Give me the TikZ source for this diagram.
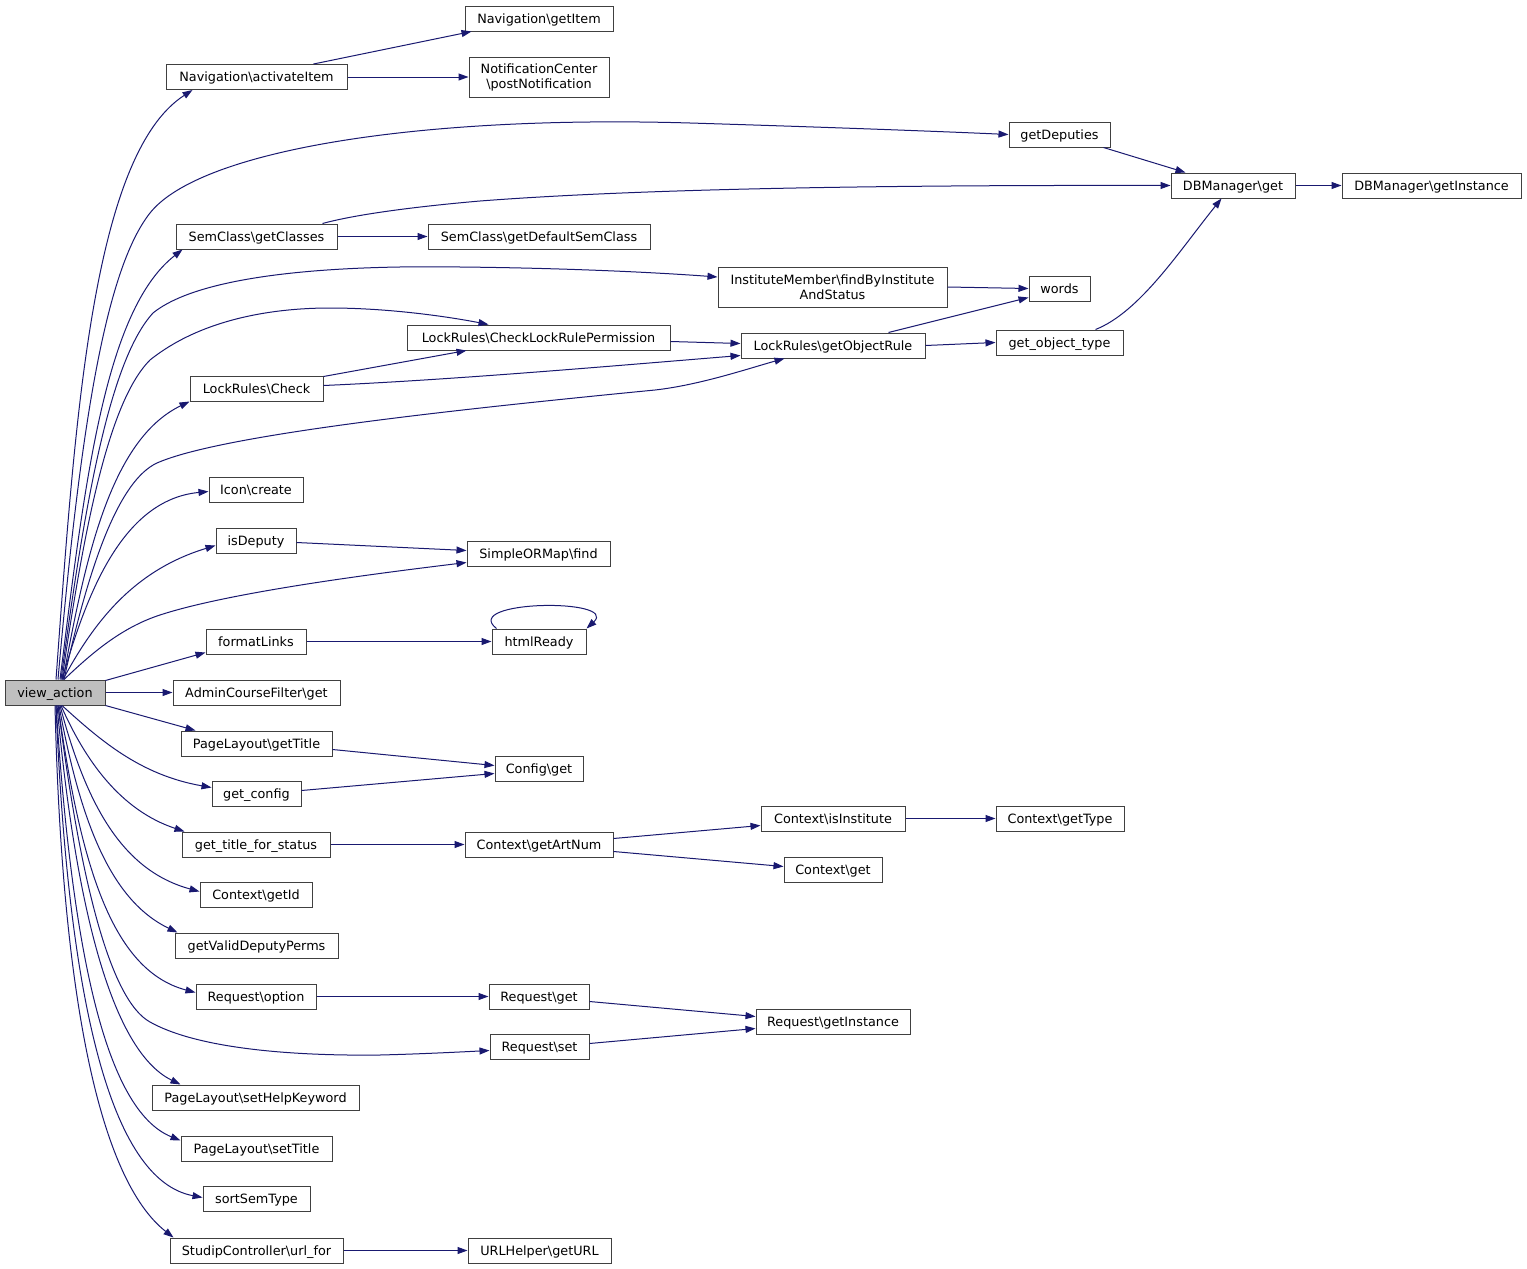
\documentclass[tikz,border=0pt]{standalone}
\usepackage{fontspec}
\setmainfont{DejaVu Sans}
\usetikzlibrary{arrows.meta,calc}
\definecolor{edgecol}{HTML}{191970}
\definecolor{boxline}{HTML}{404040}
\definecolor{rootfill}{HTML}{BFBFBF}
\begin{document}
\begin{tikzpicture}[x=1pt,y=-1pt,
  basebox/.style={draw=boxline, line width=1pt, fill=white, inner sep=0pt,
    font=\fontsize{12.8}{15}\selectfont, align=center},
  box/.style={basebox, minimum height=25pt, text height=11pt, text depth=1.4pt},
  box2/.style={basebox, minimum height=40pt},
  root/.style={box, fill=rootfill},
  call/.style={draw=edgecol, line width=1pt, -{Triangle[length=10pt,width=7pt]}}]
\useasboundingbox (0,0) rectangle (1527,1269);
\fill[white] (0,0) rectangle (1527,1269);
% nodes
\node[root, minimum width=100pt] (view) at (55,692.5) {view\_action};
\node[box, minimum width=181pt] (nav) at (256.5,77) {Navigation\textbackslash activateItem};
\node[box, minimum width=148pt] (getitem) at (539,18.5) {Navigation\textbackslash getItem};
\node[box2, minimum width=140pt] (postnot) at (539,77) {NotificationCenter\\\textbackslash postNotification};
\node[box, minimum width=101pt] (deputies) at (1059.5,134.5) {getDeputies};
\node[box, minimum width=124pt] (dbget) at (1233,185.5) {DBManager\textbackslash get};
\node[box, minimum width=179pt] (dbinst) at (1431.5,185.5) {DBManager\textbackslash getInstance};
\node[box, minimum width=161pt] (getclasses) at (256.5,236.5) {SemClass\textbackslash getClasses};
\node[box, minimum width=222pt] (defsem) at (539,236.5) {SemClass\textbackslash getDefaultSemClass};
\node[box2, minimum width=229pt] (instmem) at (832.5,287) {InstituteMember\textbackslash findByInstitute\\AndStatus};
\node[box, minimum width=61pt] (words) at (1059.5,288.5) {words};
\node[box, minimum width=263pt] (checkperm) at (538.5,337.5) {LockRules\textbackslash CheckLockRulePermission};
\node[box, minimum width=184pt] (objrule) at (833,345.5) {LockRules\textbackslash getObjectRule};
\node[box, minimum width=127pt] (objtype) at (1059.5,342.5) {get\_object\_type};
\node[box, minimum width=133pt] (check) at (256.5,388.5) {LockRules\textbackslash Check};
\node[box, minimum width=94pt] (icon) at (256,489.5) {Icon\textbackslash create};
\node[box, minimum width=80pt] (isdeputy) at (256,540.5) {isDeputy};
\node[box, minimum width=143pt] (ormfind) at (538.5,553.5) {SimpleORMap\textbackslash find};
\node[box, minimum width=100pt] (formatlinks) at (256,641.5) {formatLinks};
\node[box, minimum width=94pt] (htmlready) at (539,641.5) {htmlReady};
\node[box, minimum width=167pt] (adminget) at (256.5,692.5) {AdminCourseFilter\textbackslash get};
\node[box, minimum width=151pt] (gettitle) at (256.5,743.5) {PageLayout\textbackslash getTitle};
\node[box, minimum width=88pt] (configget) at (539,768.5) {Config\textbackslash get};
\node[box, minimum width=89pt] (getconfig) at (256.5,793.5) {get\_config};
\node[box, minimum width=144pt] (isinst) at (833,818.5) {Context\textbackslash isInstitute};
\node[box, minimum width=128pt] (gettype) at (1060,818.5) {Context\textbackslash getType};
\node[box, minimum width=148pt] (titlestatus) at (256,844.5) {get\_title\_for\_status};
\node[box, minimum width=148pt] (artnum) at (539,844.5) {Context\textbackslash getArtNum};
\node[box, minimum width=98pt] (ctxget) at (833,869.5) {Context\textbackslash get};
\node[box, minimum width=112pt] (ctxid) at (256,894.5) {Context\textbackslash getId};
\node[box, minimum width=163pt] (validperms) at (256.5,945.5) {getValidDeputyPerms};
\node[box, minimum width=120pt] (reqoption) at (256,996.5) {Request\textbackslash option};
\node[box, minimum width=100pt] (reqget) at (539,996.5) {Request\textbackslash get};
\node[box, minimum width=154pt] (reqinst) at (833,1021.5) {Request\textbackslash getInstance};
\node[box, minimum width=99pt] (reqset) at (539.5,1046.5) {Request\textbackslash set};
\node[box, minimum width=207pt] (helpkw) at (255.5,1097.5) {PageLayout\textbackslash setHelpKeyword};
\node[box, minimum width=151pt] (settitle) at (256.5,1148.5) {PageLayout\textbackslash setTitle};
\node[box, minimum width=107pt] (sorttype) at (256.5,1198.5) {sortSemType};
\node[box, minimum width=173pt] (urlfor) at (256.5,1250.5) {StudipController\textbackslash url\_for};
\node[box, minimum width=143pt] (geturl) at (539.5,1250.5) {URLHelper\textbackslash getURL};

% edges from view_action, upward fan
\draw[call] ($(view.north)+(1,0)$) .. controls (75,420) and (92,155) .. ($(nav.south west)+(27,0)$);
\draw[call] ($(view.north)+(3,0)$) .. controls (80,430) and (105,270) .. (150,213)
   .. controls (200,150) and (420,115) .. (690,123)
   .. controls (820,127) and (930,131) .. (deputies.west);
\draw[call] ($(view.north)+(5,0)$) .. controls (85,480) and (105,310) .. ($(getclasses.south west)+(7,0)$);
\draw[call] ($(view.north)+(6,0)$) .. controls (85,500) and (110,360) .. (153,313)
   .. controls (200,275) and (330,265) .. (460,267)
   .. controls (560,268) and (650,272) .. ($(instmem.west)+(0,-10)$);
\draw[call] ($(view.north)+(7,0)$) .. controls (85,520) and (110,400) .. (150,360)
   .. controls (200,320) and (270,308) .. (330,308)
   .. controls (390,308) and (450,317) .. ($(checkperm.north)+(-50,0)$);
\draw[call] ($(view.north)+(8,0)$) .. controls (85,560) and (110,440) .. (check.south west);
\draw[call] ($(view.north)+(9,0)$) .. controls (90,560) and (120,480) .. (157,463)
   .. controls (220,435) and (450,410) .. (655,390)
   .. controls (700,385) and (750,368) .. ($(objrule.south west)+(44,0)$);
\draw[call] ($(view.north)+(7,0)$) .. controls (85,600) and (120,500) .. ($(icon.west)+(0,2)$);
\draw[call] ($(view.north)+(8,0)$) .. controls (95,620) and (135,570) .. ($(isdeputy.west)+(0,5)$);
\draw[call] ($(view.north)+(9,0)$) .. controls (90,655) and (120,628) .. (160,615)
   .. controls (230,592) and (380,573) .. ($(ormfind.west)+(0,9)$);
\draw[call] ($(view.north east)+(0,1)$) -- ($(formatlinks.west)+(0,11)$);
\draw[call] (view.east) -- (adminget.west);
% downward fan
\draw[call] (view.south east) -- ($(gettitle.north west)+(15,0)$);
\draw[call] ($(view.south)+(7,0)$) .. controls (100,740) and (140,775) .. ($(getconfig.west)+(0,-6)$);
\draw[call] ($(view.south)+(6,0)$) .. controls (85,760) and (120,810) .. ($(titlestatus.north west)+(3,0)$);
\draw[call] ($(view.south)+(5,0)$) .. controls (85,800) and (120,870) .. ($(ctxid.west)+(0,-3)$);
\draw[call] ($(view.south)+(4,0)$) .. controls (80,820) and (110,900) .. ($(validperms.north west)+(3,0)$);
\draw[call] ($(view.south)+(3,0)$) .. controls (80,860) and (110,970) .. ($(reqoption.west)+(0,-4)$);
\draw[call] ($(view.south)+(3,0)$) .. controls (80,880) and (110,1000) .. (150,1022)
   .. controls (200,1050) and (300,1056) .. (380,1055)
   .. controls (420,1054) and (460,1052) .. ($(reqset.west)+(0,4)$);
\draw[call] ($(view.south)+(2,0)$) .. controls (75,900) and (110,1050) .. ($(helpkw.north west)+(29,0)$);
\draw[call] ($(view.south)+(1,0)$) .. controls (72,950) and (105,1110) .. ($(settitle.west)+(0,-8)$);
\draw[call] ($(view.south)+(1,0)$) .. controls (68,1000) and (110,1180) .. ($(sorttype.west)+(0,-1)$);
\draw[call] (view.south) .. controls (62,1000) and (100,1180) .. ($(urlfor.north west)+(4,0)$);

% other edges
\draw[call] ($(nav.north east)+(-34,0)$) -- ($(getitem.south west)+(7,0)$);
\draw[call] (nav.east) -- (postnot.west);
\draw[call] ($(getclasses.north east)+(-15,0)$) .. controls (350,216) and (400,208) .. (480,201)
   .. controls (650,188) and (900,185) .. (dbget.west);
\draw[call] ($(deputies.south east)+(-7,0)$) -- ($(dbget.north west)+(15,0)$);
\draw[call] (dbget.east) -- (dbinst.west);
\draw[call] (getclasses.east) -- (defsem.west);
\draw[call] (instmem.east) -- (words.west);
\draw[call] ($(objrule.north east)+(-37,0)$) -- ($(words.south west)+(0,-4)$);
\draw[call] (objrule.east) -- (objtype.west);
\draw[call] ($(objtype.north)+(36,0)$) .. controls (1140,312) and (1180,250) .. ($(dbget.south west)+(51,0)$);
\draw[call] ($(checkperm.east)+(0,4)$) -- ($(objrule.west)+(0,-2)$);
\draw[call] ($(check.north east)+(0,1)$) -- ($(checkperm.south west)+(60,0)$);
\draw[call] ($(check.east)+(0,-3)$) .. controls (450,380) and (600,367) .. ($(objrule.west)+(0,10)$);
\draw[call] ($(isdeputy.east)+(0,2)$) -- ($(ormfind.west)+(0,-3)$);
\draw[call] (formatlinks.east) -- (htmlready.west);
\draw[call] ($(htmlready.north west)+(5,0)$) .. controls (460,600) and (620,598) .. (htmlready.north east);
\draw[call] ($(gettitle.east)+(0,6)$) -- ($(configget.west)+(0,-3)$);
\draw[call] ($(getconfig.east)+(0,-3)$) -- ($(configget.west)+(0,5)$);
\draw[call] (titlestatus.east) -- (artnum.west);
\draw[call] ($(artnum.east)+(0,-6)$) -- ($(isinst.west)+(0,7)$);
\draw[call] ($(artnum.east)+(0,7)$) -- ($(ctxget.west)+(0,-3)$);
\draw[call] (isinst.east) -- (gettype.west);
\draw[call] (reqoption.east) -- (reqget.west);
\draw[call] ($(reqget.east)+(0,5)$) -- ($(reqinst.west)+(0,-5)$);
\draw[call] ($(reqset.east)+(0,-3)$) -- ($(reqinst.west)+(0,7)$);
\draw[call] (urlfor.east) -- (geturl.west);
\end{tikzpicture}
\end{document}
